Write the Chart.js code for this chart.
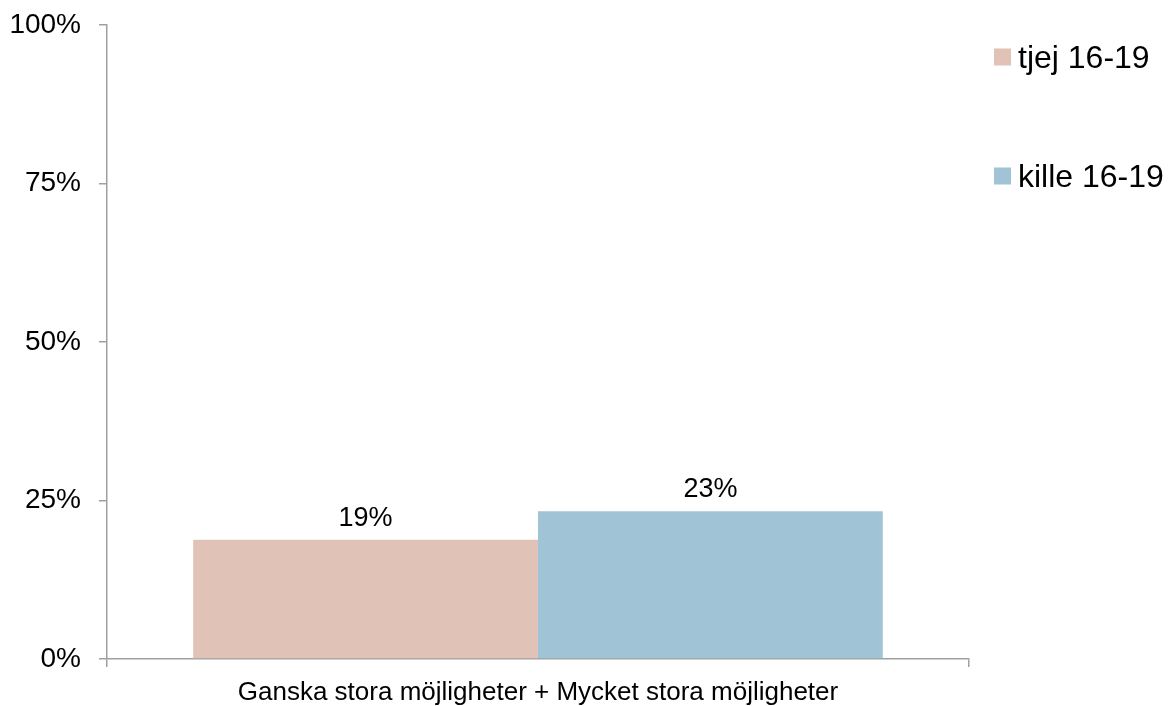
<!DOCTYPE html>
<html>
<head>
<meta charset="utf-8">
<script src="https://cdn.jsdelivr.net/npm/chart.js@4/dist/chart.umd.min.js"></script>
<style>
  html, body { margin: 0; padding: 0; background: #fff; }
  #wrap { width: 1170px; height: 706px; }
</style>
</head>
<body>
<div id="wrap"><canvas id="chart" width="1170" height="706"></canvas></div>
<script>
'use strict';

var categories = ['Ganska stora möjligheter + Mycket stora möjligheter'];
var seriesNames = ['tjej 16-19', 'kille 16-19'];
var tjejValues = [18.8];
var killeValues = [23.3];
var seriesColors = ['#e0c2b7', '#a1c3d6'];
var yTicks = [0, 25, 50, 75, 100];

var FONT = '"Liberation Sans", Arial, sans-serif';
var AXIS = '#a0a0a0';

// value labels above each bar
var valueLabels = {
  id: 'valueLabels',
  afterDatasetsDraw: function(chart) {
    var ctx = chart.ctx;
    ctx.save();
    ctx.fillStyle = '#000';
    ctx.font = '27px ' + FONT;
    ctx.textAlign = 'center';
    ctx.textBaseline = 'alphabetic';
    chart.data.datasets.forEach(function(ds, i) {
      chart.getDatasetMeta(i).data.forEach(function(bar, j) {
        ctx.fillText(Math.round(ds.data[j]) + '%', bar.x, bar.y - 14);
      });
    });
    ctx.restore();
  }
};

// legend to the right, spaced out like the original
var sideLegend = {
  id: 'sideLegend',
  afterDraw: function(chart) {
    var ctx = chart.ctx;
    ctx.save();
    ctx.font = '32px ' + FONT;
    ctx.textBaseline = 'middle';
    ctx.textAlign = 'left';
    chart.data.datasets.forEach(function(ds, i) {
      var cy = 57 + i * 119;
      ctx.fillStyle = ds.backgroundColor;
      ctx.fillRect(994, cy - 8.5, 17, 17);
      ctx.fillStyle = '#000';
      ctx.fillText(ds.label, 1018, cy + 2);
    });
    ctx.restore();
  }
};

new Chart(document.getElementById('chart'), {
  type: 'bar',
  data: {
    labels: categories,
    datasets: [
      { label: seriesNames[0], data: tjejValues, backgroundColor: seriesColors[0] },
      { label: seriesNames[1], data: killeValues, backgroundColor: seriesColors[1] }
    ]
  },
  options: {
    responsive: false,
    animation: false,
    layout: { padding: { top: 25, right: 201, left: 0, bottom: 0 } },
    datasets: { bar: { categoryPercentage: 0.8, barPercentage: 1.0, borderWidth: 0 } },
    plugins: { legend: { display: false }, tooltip: { enabled: false } },
    scales: {
      x: {
        grid: { offset: true, drawOnChartArea: false, drawTicks: true, tickLength: 8, color: AXIS, lineWidth: 1.5 },
        border: { display: true, color: AXIS, width: 1.5 },
        ticks: { color: '#000', font: { family: FONT, size: 26 }, padding: 10, maxRotation: 0 },
        afterFit: function(scale) { scale.height = 47; }
      },
      y: {
        min: 0,
        max: 100,
        afterBuildTicks: function(scale) {
          scale.ticks = yTicks.map(function(v) { return { value: v }; });
        },
        grid: { drawOnChartArea: false, drawTicks: true, tickLength: 8, color: AXIS, lineWidth: 1.5 },
        border: { display: true, color: AXIS, width: 1.5 },
        ticks: {
          color: '#000',
          font: { family: FONT, size: 28 },
          padding: 18,
          callback: function(v) { return v + '%'; }
        },
        afterFit: function(scale) {
          scale.width = 107;
          scale.paddingTop = 0;
          scale.paddingBottom = 0;
        }
      }
    }
  },
  plugins: [valueLabels, sideLegend]
});
</script>
</body>
</html>
